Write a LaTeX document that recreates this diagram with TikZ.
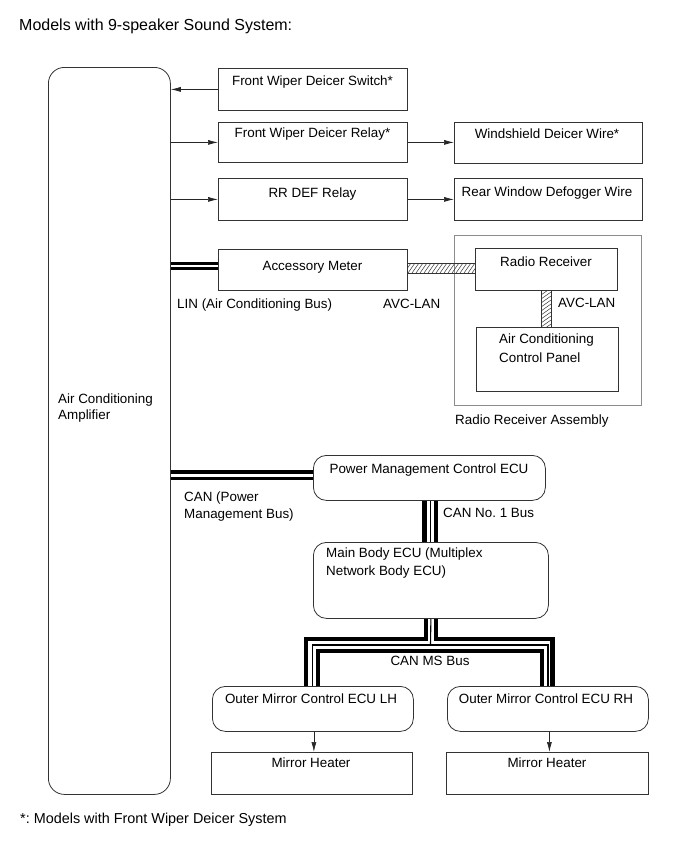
\documentclass[tikz,border=0pt]{standalone}
\usepackage{fontspec}
\setmainfont{Liberation Sans}
\usetikzlibrary{arrows.meta}
\frenchspacing
\begin{document}
\frenchspacing
\begin{tikzpicture}[x=1pt,y=-1pt,
  box/.style={draw=black!80, line width=0.8pt, inner sep=0pt, anchor=north west},
  rbox/.style={box, rounded corners=13pt},
  gbox/.style={box, draw=black!45},
  txt/.style={font=\fontsize{13.4}{16}\selectfont, inner sep=0pt, anchor=base},
  ltxt/.style={txt, anchor=base west},
  ttl/.style={font=\fontsize{16}{19}\selectfont, inner sep=0pt, anchor=base west},
  fnt/.style={font=\fontsize{14.4}{17}\selectfont, inner sep=0pt, anchor=base west},
  arr/.style={draw=black!85, line width=0.7pt, -{Latex[length=10pt,width=5pt]}},
  busk/.style={draw=black, line width=4.2pt},
  busm/.style={draw=black, line width=3pt},
  bust/.style={draw=black, line width=1.1pt},
  hatchline/.style={draw=black!80, line width=0.5pt}
]
\useasboundingbox[fill=white] (0,0) rectangle (690,855);

% title and footnote
\node[ttl] (title) at (19,30) {Models with 9-speaker Sound System:};
\node[fnt] (foot) at (20,823) {*: Models with Front Wiper Deicer System};

% amplifier
\node[box, rounded corners=16pt, minimum width=122, minimum height=727] (amp) at (48,67) {};
\node[ltxt] (ampt1) at (58,403) {Air Conditioning};
\node[ltxt] (ampt2) at (58,419) {Amplifier};

% right boxes
\node[box, minimum width=189, minimum height=42] (sw) at (218,68) {};
\node[txt] (swt) at (312.5,85) {Front Wiper Deicer Switch*};
\node[box, minimum width=189, minimum height=40] (rly) at (218,122) {};
\node[txt] (rlyt) at (312.5,137) {Front Wiper Deicer Relay*};
\node[box, minimum width=188, minimum height=41] (wsw) at (454,122) {};
\node[txt] (wswt) at (547,138) {Windshield Deicer Wire*};
\node[box, minimum width=189, minimum height=42] (rrd) at (218,178) {};
\node[txt] (rrdt) at (312.5,197) {RR DEF Relay};
\node[box, minimum width=188, minimum height=42] (rwd) at (454,178) {};
\node[txt] (rwdt) at (547,196) {Rear Window Defogger Wire};

\node[box, minimum width=189, minimum height=41] (acc) at (218,249) {};
\node[txt] (acct) at (312.5,270) {Accessory Meter};

\node[gbox, minimum width=187, minimum height=170] (rra) at (454,235) {};
\node[ltxt] (rrat) at (455,424) {Radio Receiver Assembly};
\node[box, minimum width=142, minimum height=42] (rr) at (475,248) {};
\node[txt] (rrt) at (546,266) {Radio Receiver};
\node[box, minimum width=142, minimum height=64] (acp) at (476,327) {};
\node[ltxt] (acpt1) at (499,343) {Air Conditioning};
\node[ltxt] (acpt2) at (499,362) {Control Panel};

\node[ltxt] (lint) at (177,308) {LIN (Air Conditioning Bus)};
\node[ltxt] (avct1) at (383,308) {AVC-LAN};
\node[ltxt] (avct2) at (558,307) {AVC-LAN};

% ECUs
\node[rbox, minimum width=232, minimum height=45] (pmc) at (313,455) {};
\node[txt] (pmct) at (429,473) {Power Management Control ECU};
\node[ltxt] (cant1) at (184,501) {CAN (Power};
\node[ltxt] (cant2) at (184,518) {Management Bus)};
\node[ltxt] (can1t) at (443,517) {CAN No.\ 1 Bus};

\node[rbox, minimum width=235, minimum height=76] (mb) at (313,542) {};
\node[ltxt] (mbt1) at (326,557) {Main Body ECU (Multiplex};
\node[ltxt] (mbt2) at (326,575) {Network Body ECU)};
\node[txt] (canmst) at (430,665) {CAN MS Bus};

\node[rbox, minimum width=201, minimum height=45] (omL) at (212,686) {};
\node[txt] (omLt) at (311,703) {Outer Mirror Control ECU LH};
\node[rbox, minimum width=201, minimum height=45] (omR) at (447,686) {};
\node[txt] (omRt) at (546,703) {Outer Mirror Control ECU RH};
\node[box, minimum width=201, minimum height=42] (mhL) at (211,752) {};
\node[txt] (mhLt) at (311,767) {Mirror Heater};
\node[box, minimum width=202, minimum height=42] (mhR) at (446,752) {};
\node[txt] (mhRt) at (547,767) {Mirror Heater};

% arrows
\draw[arr] (sw.west) -- (sw.west -| amp.east);
\draw[arr] (amp.east |- rly.west) -- (rly.west);
\draw[arr] (amp.east |- rrd.west) -- (rrd.west);
\draw[arr] (rly.east) -- (rly.east -| wsw.west);
\draw[arr] (rrd.east) -- (rrd.east -| rwd.west);
\draw[arr] ([xshift=1pt]omL.south) -- ([xshift=1pt]omL.south |- mhL.north);
\draw[arr] ([xshift=1.5pt]omR.south) -- ([xshift=1.5pt]omR.south |- mhR.north);

% LIN bus
\draw[busm, line width=2.6pt] (amp.east |- 0,263.6) -- (acc.west |- 0,263.6);
\draw[busm] (amp.east |- 0,268.6) -- (acc.west |- 0,268.6);

% AVC-LAN hatched bars
\coordinate (h1a) at (acc.east |- 0,263);
\coordinate (h1b) at (rr.west |- 0,273);
\begin{scope}
  \clip (h1a) rectangle (h1b);
  \foreach \i in {396,400,...,480} \draw[hatchline] (\i,273) -- (\i+7,263);
\end{scope}
\draw[hatchline, line width=0.7pt] (h1a) -- (h1a -| h1b);
\draw[hatchline, line width=0.7pt] (h1b -| h1a) -- (h1b);

\coordinate (h2a) at (rr.south -| 541,0);
\coordinate (h2b) at (acp.north -| 551,0);
\begin{scope}
  \clip (h2a) rectangle (h2b);
  \foreach \j in {280,284,...,336} \draw[hatchline] (541,\j+7) -- (551,\j);
\end{scope}
\draw[hatchline, line width=0.7pt] (h2a) -- (h2a |- h2b);
\draw[hatchline, line width=0.7pt] (h2b |- h2a) -- (h2b);

% CAN (Power Management Bus)
\draw[busk, line width=3.8pt] (amp.east |- 0,472) -- (pmc.west |- 0,472);
\draw[busm] (amp.east |- 0,478.5) -- (pmc.west |- 0,478.5);

% CAN No. 1 Bus
\draw[busk] ([xshift=-5pt]pmc.south) -- ([xshift=-5pt]pmc.south |- mb.north);
\draw[bust] ([xshift=1pt]pmc.south) -- ([xshift=1pt]pmc.south |- mb.north);
\draw[busk] ([xshift=6.5pt]pmc.south) -- ([xshift=6.5pt]pmc.south |- mb.north);

% CAN MS Bus
\coordinate (cL1) at (306.3,639.2);
\coordinate (cR1) at (552.5,639.2);
\coordinate (cT) at (430.5,645);
\coordinate (cL2) at (312.5,645);
\coordinate (cR2) at (548,645);
\coordinate (cL3) at (318,651.3);
\coordinate (cR3) at (542,651.3);
\draw[busk] ([xshift=-5.3pt]mb.south) |- (cL1) -- (cL1 |- omL.north);
\draw[busk] ([xshift=5.3pt]mb.south) |- (cR1) -- (cR1 |- omR.north);
\draw[bust] (mb.south) -- (cT);
\draw[bust] (cL2 |- omL.north) -- (cL2) -- (cR2) -- (cR2 |- omR.north);
\draw[busk] (cL3 |- omL.north) -- (cL3) -- (cR3) -- (cR3 |- omR.north);
\end{tikzpicture}
\end{document}
